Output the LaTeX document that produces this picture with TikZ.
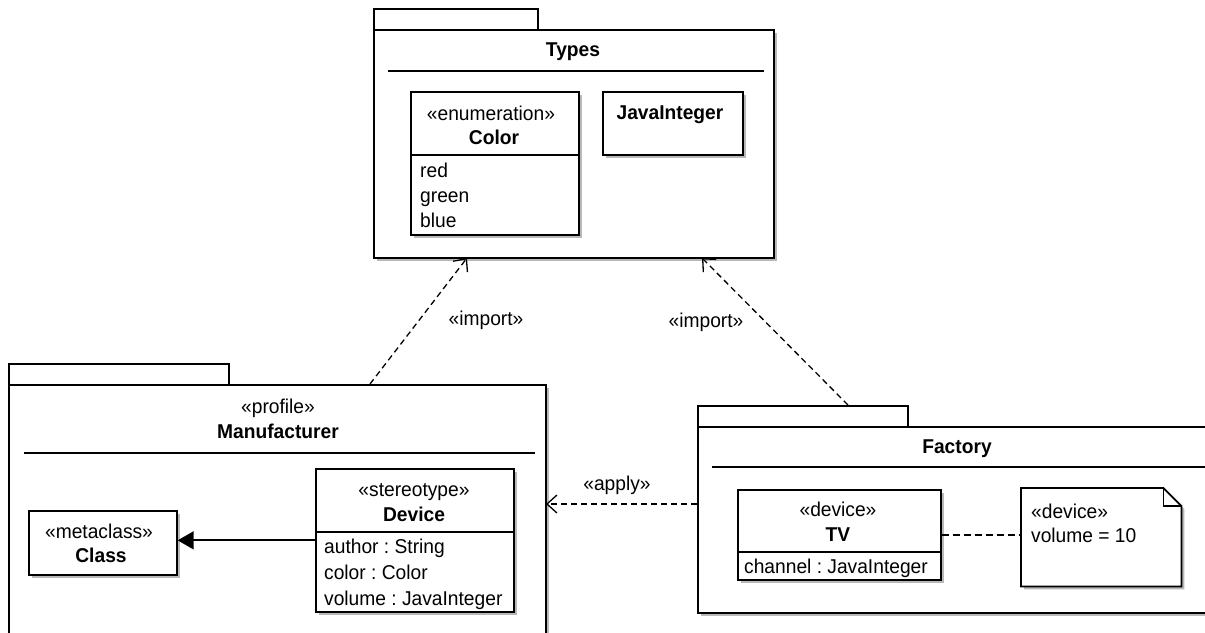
\documentclass[tikz,border=0pt]{standalone}
\usepackage{fontspec}
\setmainfont{Liberation Sans}[FakeStretch=0.96]
\usetikzlibrary{arrows.meta,shadows,calc}
\begin{document}
\frenchspacing
\begin{tikzpicture}[x=1pt,y=-1pt,
  font=\fontsize{20}{24}\selectfont,
  shadowed/.style={drop shadow={shadow xshift=3pt,shadow yshift=-3pt,fill=black!28,opacity=1}},
  pkg/.style={draw,line width=1.8pt,fill=white,inner sep=0pt,anchor=north west,shadowed},
  pkgtab/.style={draw,line width=1.8pt,fill=white,inner sep=0pt,anchor=north west},
  box/.style={draw,line width=1.7pt,fill=white,inner sep=0pt,anchor=north west,shadowed},
  sep/.style={line width=1.5pt},
  txt/.style={inner sep=0pt,text height=14.3pt,text depth=0pt},
  ltxt/.style={txt,anchor=west},
  btxt/.style={txt,font=\fontsize{20}{24}\selectfont\bfseries},
  dep/.style={dash pattern=on 6pt off 4pt,line width=1.3pt,-{Straight Barb[length=10pt,width=18pt,line width=1.3pt]}},
  gen/.style={line width=1.8pt,-{Triangle[length=16pt,width=18pt]}},
  link/.style={dash pattern=on 7pt off 4pt,line width=1.6pt}
]
\useasboundingbox (0,0) rectangle (1205,632);
\clip (0,0) rectangle (1205,632);

% ---------- Types package ----------
\node[pkgtab,minimum width=164pt,minimum height=21pt] (typestab) at (373,8) {};
\node[pkg,minimum width=400pt,minimum height=228pt] (types) at (373,29) {};
\node[btxt] (typesname) at (573,49) {Types};
\draw[sep] (388,71) -- (764,71);

\node[box,minimum width=168pt,minimum height=143pt] (color) at (410,91) {};
\draw[sep] (410,155) -- (578,155);
\node[txt] (colorst) at (491,113) {«enumeration»};
\node[btxt] (colorname) at (494,137) {Color};
\node[ltxt] (red) at (420,170) {red};
\node[ltxt] (green) at (420,195) {green};
\node[ltxt] (blue) at (420,220) {blue};

\node[box,minimum width=140pt,minimum height=63pt] (javaint) at (602,91) {};
\node[btxt] (javaintname) at (670,112) {JavaInteger};

% ---------- Manufacturer package ----------
\node[pkgtab,minimum width=220pt,minimum height=21pt] (mfrtab) at (8,363) {};
\node[pkg,minimum width=537pt,minimum height=300pt] (mfr) at (8,384) {};
\node[txt] (mfrst) at (278,406) {«profile»};
\node[btxt] (mfrname) at (278,431) {Manufacturer};
\draw[sep] (24,453) -- (535,453);

\node[box,minimum width=148pt,minimum height=64pt] (class) at (28,510) {};
\node[txt] (classst) at (99,531) {«metaclass»};
\node[btxt] (classname) at (101,555) {Class};

\node[box,minimum width=198pt,minimum height=143pt] (device) at (315,468) {};
\draw[sep] (315,532) -- (513,532);
\node[txt] (devicest) at (414,489) {«stereotype»};
\node[btxt] (devicename) at (414,514) {Device};
\node[ltxt] (attr1) at (324,546) {author : String};
\node[ltxt] (attr2) at (324,572) {color : Color};
\node[ltxt] (attr3) at (324,598) {volume : JavaInteger};

\draw[gen] (device.west) -- (device.west -| class.east);

% ---------- Factory package ----------
\node[pkgtab,minimum width=210pt,minimum height=21pt] (factab) at (697,405) {};
\node[pkg,minimum width=540pt,minimum height=186pt] (fac) at (697,426) {};
\node[btxt] (facname) at (957,446) {Factory};
\draw[sep] (712,467) -- (1215,467);

\node[box,minimum width=203pt,minimum height=90pt] (tv) at (737,489) {};
\draw[sep] (737,552) -- (940,552);
\node[txt] (tvst) at (838,509) {«device»};
\node[btxt] (tvname) at (838,534) {TV};
\node[ltxt] (tvattr) at (744,566) {channel : JavaInteger};

% note
\node[inner sep=0pt,anchor=north west,minimum width=160pt,minimum height=98pt] (note) at (1021,488) {};
\fill[black!28] ($(note.north west)+(3,3)$) -- ($(note.north east)+(-15,3)$) -- ($(note.north east)+(3,21)$) -- ($(note.south east)+(3,3)$) -- ($(note.south west)+(3,3)$) -- cycle;
\draw[line width=1.7pt,fill=white,line join=miter] (note.north west) -- ($(note.north east)+(-18,0)$) -- ($(note.north east)+(0,18)$) -- (note.south east) -- (note.south west) -- cycle;
\draw[line width=1.4pt] ($(note.north east)+(-18,0)$) -- ($(note.north east)+(-18,18)$) -- ($(note.north east)+(0,18)$);
\node[ltxt] (notest) at (1031,511) {«device»};
\node[ltxt] (notetxt) at (1031,535) {volume = 10};

\draw[link] (tv.east) -- (tv.east -| note.west);

% ---------- dependencies ----------
\coordinate (imp1s) at (370,384);
\coordinate (imp1e) at (467,258);
\coordinate (imp2s) at (848,405);
\coordinate (imp2e) at (702,258);
\draw[dep] (imp1s) -- (imp1e);
\draw[dep] (imp2s) -- (imp2e);
\node[txt] (imp1lbl) at (486,318) {«import»};
\node[txt] (imp2lbl) at (706,320) {«import»};

\coordinate (apps) at (697,504);
\coordinate (appe) at (546,504);
\draw[dep] (apps) -- (appe);
\node[txt] (applbl) at (617,483) {«apply»};
\end{tikzpicture}
\end{document}
